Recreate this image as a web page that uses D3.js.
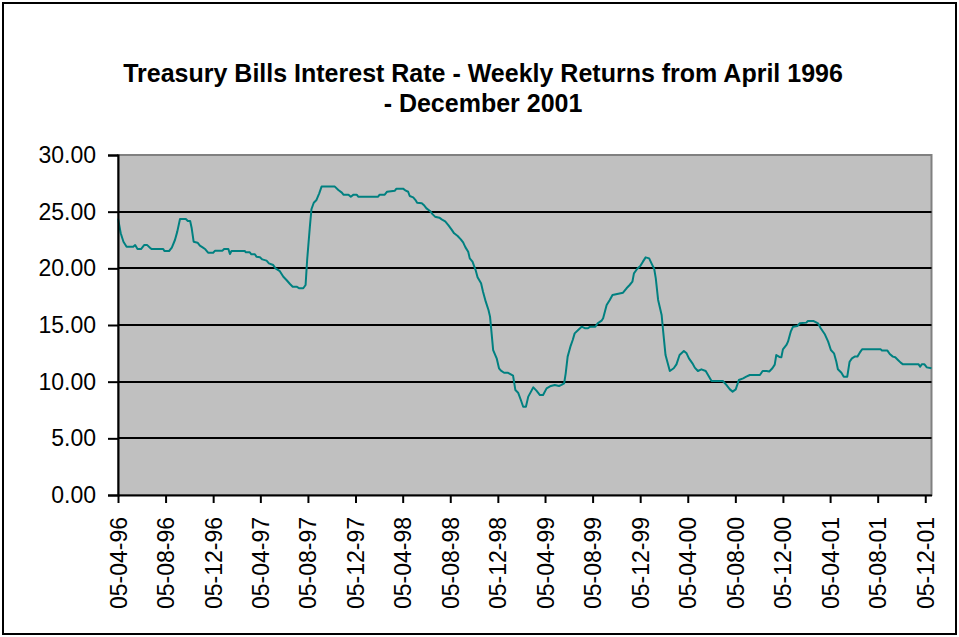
<!DOCTYPE html>
<html><head><meta charset="utf-8">
<script src="https://cdn.jsdelivr.net/npm/d3@7"></script>
<style>body{margin:0;background:#fff} svg{display:block}</style>
</head><body>
<svg id="chart" width="959" height="637"></svg>
<script>
const titleLines = ["Treasury Bills Interest Rate - Weekly Returns from April 1996", "- December 2001"];
const dates = ["1996-04-05","1996-04-12","1996-04-19","1996-04-27","1996-05-14","1996-05-19","1996-05-25","1996-06-03","1996-06-11","1996-06-19","1996-06-26","1996-06-30","1996-07-30","1996-08-02","1996-08-14","1996-08-21","1996-08-29","1996-09-04","1996-09-11","1996-09-26","1996-10-01","1996-10-07","1996-10-11","1996-10-16","1996-10-26","1996-11-01","1996-11-09","1996-11-15","1996-11-22","1996-12-05","1996-12-10","1996-12-29","1997-01-02","1997-01-13","1997-01-17","1997-01-21","1997-02-24","1997-02-27","1997-03-09","1997-03-13","1997-03-22","1997-03-26","1997-04-04","1997-04-10","1997-04-21","1997-04-27","1997-05-08","1997-05-14","1997-05-25","1997-06-03","1997-06-11","1997-06-20","1997-06-27","1997-07-07","1997-07-14","1997-07-24","1997-07-30","1997-08-03","1997-08-10","1997-08-14","1997-08-20","1997-08-27","1997-09-03","1997-09-09","1997-10-13","1997-10-22","1997-10-31","1997-11-04","1997-11-17","1997-11-23","1997-11-30","1997-12-08","1997-12-12","1998-02-01","1998-02-05","1998-02-18","1998-02-24","1998-03-16","1998-03-20","1998-04-06","1998-04-13","1998-04-19","1998-04-23","1998-05-02","1998-05-09","1998-05-12","1998-05-24","1998-05-29","1998-06-05","1998-06-14","1998-06-21","1998-06-27","1998-07-08","1998-07-14","1998-07-23","1998-07-31","1998-08-08","1998-08-15","1998-08-24","1998-09-01","1998-09-07","1998-09-13","1998-09-20","1998-09-24","1998-10-01","1998-10-09","1998-10-14","1998-10-23","1998-10-28","1998-11-04","1998-11-11","1998-11-15","1998-11-19","1998-11-23","1998-12-02","1998-12-08","1998-12-13","1998-12-21","1998-12-30","1999-01-05","1999-01-13","1999-01-19","1999-01-26","1999-02-02","1999-02-08","1999-02-15","1999-02-21","1999-02-28","1999-03-06","1999-03-14","1999-03-23","1999-03-31","1999-04-09","1999-04-20","1999-04-30","1999-05-11","1999-05-17","1999-05-24","1999-05-28","1999-06-02","1999-06-09","1999-06-15","1999-06-20","1999-06-29","1999-07-08","1999-07-17","1999-07-24","1999-07-30","1999-08-12","1999-08-18","1999-08-28","1999-09-01","1999-09-10","1999-09-18","1999-09-25","1999-10-07","1999-10-22","1999-10-31","1999-11-08","1999-11-15","1999-11-19","1999-11-27","1999-12-06","1999-12-12","1999-12-19","1999-12-28","2000-01-03","2000-01-10","2000-01-14","2000-01-20","2000-01-29","2000-02-02","2000-02-08","2000-02-19","2000-02-29","2000-03-07","2000-03-15","2000-03-26","2000-04-02","2000-04-08","2000-04-17","2000-04-23","2000-05-01","2000-05-10","2000-05-21","2000-05-27","2000-06-05","2000-07-04","2000-07-13","2000-07-22","2000-07-29","2000-08-06","2000-08-14","2000-08-25","2000-09-02","2000-09-11","2000-10-07","2000-10-14","2000-10-24","2000-10-31","2000-11-08","2000-11-14","2000-11-18","2000-11-26","2000-12-01","2000-12-05","2000-12-14","2000-12-18","2000-12-25","2000-12-31","2001-01-11","2001-01-17","2001-02-03","2001-02-07","2001-02-22","2001-03-05","2001-03-12","2001-03-22","2001-03-31","2001-04-07","2001-04-15","2001-04-21","2001-04-25","2001-05-04","2001-05-10","2001-05-19","2001-05-25","2001-05-31","2001-06-07","2001-06-14","2001-06-20","2001-06-26","2001-08-13","2001-08-16","2001-08-30","2001-09-05","2001-09-13","2001-09-19","2001-09-26","2001-10-03","2001-10-09","2001-11-18","2001-11-22","2001-11-26","2001-12-03","2001-12-09","2001-12-21"];
const rates = [24.4,23.1,22.35,21.9,21.9,22.05,21.7,21.7,22.05,22.05,21.82,21.7,21.7,21.53,21.53,21.82,22.5,23.24,24.35,24.35,24.18,24.18,23.53,22.35,22.26,22.0,21.82,21.68,21.38,21.38,21.56,21.56,21.71,21.71,21.26,21.53,21.53,21.41,21.41,21.24,21.24,21.03,20.97,20.79,20.68,20.44,20.29,20.0,19.75,19.26,18.97,18.62,18.38,18.38,18.24,18.24,18.53,20.74,23.68,25.21,25.79,26.03,26.62,27.21,27.21,26.91,26.68,26.5,26.5,26.32,26.5,26.5,26.32,26.32,26.5,26.5,26.76,26.85,27.03,27.03,26.85,26.76,26.38,26.26,25.97,25.79,25.74,25.59,25.29,25.06,24.76,24.56,24.47,24.32,24.15,23.82,23.44,23.09,22.85,22.56,22.29,21.85,21.47,20.88,20.59,19.85,19.21,18.68,17.94,17.06,16.32,15.74,14.26,12.79,12.06,11.18,10.97,10.79,10.79,10.68,10.53,9.26,9.03,8.38,7.79,7.79,8.68,9.12,9.5,9.21,8.82,8.82,9.41,9.62,9.71,9.62,9.71,9.85,10.74,12.21,13.09,13.68,14.26,14.56,14.85,14.71,14.71,14.85,14.85,15.15,15.38,15.59,16.76,17.21,17.65,17.74,17.85,18.24,18.53,18.82,19.56,19.94,20.24,20.59,20.97,20.88,20.44,19.94,19.12,17.21,15.88,14.41,12.35,10.94,11.18,11.53,12.35,12.71,12.5,12.06,11.62,11.24,10.94,11.09,10.94,10.59,10.06,10.06,9.71,9.32,9.12,9.32,10.15,10.29,10.44,10.59,10.59,10.94,10.94,10.9,11.18,11.5,12.35,12.18,12.15,12.85,13.24,13.53,14.41,14.85,14.91,15.15,15.21,15.35,15.35,15.15,14.71,14.21,13.53,12.79,12.5,11.76,11.09,10.79,10.44,10.44,11.76,12.06,12.21,12.21,12.56,12.85,12.85,12.74,12.74,12.44,12.21,12.15,11.91,11.68,11.53,11.53,11.32,11.53,11.53,11.26,11.18];
const xTickDates = ["1996-04-05","1996-08-05","1996-12-05","1997-04-05","1997-08-05","1997-12-05","1998-04-05","1998-08-05","1998-12-05","1999-04-05","1999-08-05","1999-12-05","2000-04-05","2000-08-05","2000-12-05","2001-04-05","2001-08-05","2001-12-05"];
const xDomain = ["1996-04-05","2001-12-21"];
const yTicks = [0,5,10,15,20,25,30];

const parse = d3.timeParse("%Y-%m-%d");
const fmtX = d3.timeFormat("%d-%m-%y");
const fmtY = d3.format(".2f");
const FONT = "'Liberation Sans', Arial, sans-serif";

const svg = d3.select("#chart");
const W = 959, H = 637;
const L = 118, R = 931.5, T = 155, B = 495;

svg.append("rect").attr("x",0).attr("y",0).attr("width",W).attr("height",H).attr("fill","#fff");
svg.append("rect").attr("x",3).attr("y",3).attr("width",W-6).attr("height",H-6)
  .attr("fill","none").attr("stroke","#000").attr("stroke-width",2);

const x = d3.scaleTime().domain(xDomain.map(parse)).range([L, R]);
const y = d3.scaleLinear().domain([0,30]).range([B, T]);

svg.append("rect").attr("x",L).attr("y",T).attr("width",R-L).attr("height",B-T)
  .attr("fill","#C0C0C0").attr("stroke","#808080").attr("stroke-width",2);

svg.append("g").selectAll("line").data(yTicks.filter(d=>d>0 && d<30)).join("line")
  .attr("x1",L).attr("x2",R).attr("y1",d=>Math.round(y(d))).attr("y2",d=>Math.round(y(d)))
  .attr("stroke","#000").attr("stroke-width",2);

const pts = dates.map((d,i)=>({date:parse(d), v:rates[i]}));
svg.append("path").datum(pts)
  .attr("fill","none").attr("stroke","#008080").attr("stroke-width",2).attr("stroke-linejoin","round")
  .attr("d", d3.line().x(d=>x(d.date)).y(d=>y(d.v)));

const yAxis = svg.append("g").attr("transform",`translate(${L},0)`)
  .call(d3.axisLeft(y).tickValues(yTicks).tickFormat(fmtY).tickSize(10).tickPadding(12));
yAxis.select(".domain").attr("stroke","#000").attr("stroke-width",2);
yAxis.selectAll(".tick line").attr("stroke","#000").attr("stroke-width",2);
yAxis.selectAll("text").attr("font-family",FONT).attr("font-size",23).attr("fill","#000");

const xAxis = svg.append("g").attr("transform",`translate(0,${B})`)
  .call(d3.axisBottom(x).tickValues(xTickDates.map(parse)).tickFormat(fmtX).tickSizeInner(8).tickSizeOuter(0));
xAxis.select(".domain").attr("stroke","#000").attr("stroke-width",2);
xAxis.selectAll(".tick line").attr("stroke","#000").attr("stroke-width",2);
xAxis.selectAll("text").attr("font-family",FONT).attr("font-size",23).attr("fill","#000")
  .attr("text-anchor","end").attr("dy","0.35em").attr("dx",0)
  .attr("transform","translate(0,22) rotate(-90)").attr("x",0).attr("y",0);

svg.append("g").selectAll("text").data(titleLines).join("text")
  .attr("x",483).attr("y",(d,i)=>82+i*30).attr("text-anchor","middle")
  .attr("font-family",FONT).attr("font-weight","bold").attr("font-size",25).attr("fill","#000")
  .text(d=>d);
</script>
</body></html>
